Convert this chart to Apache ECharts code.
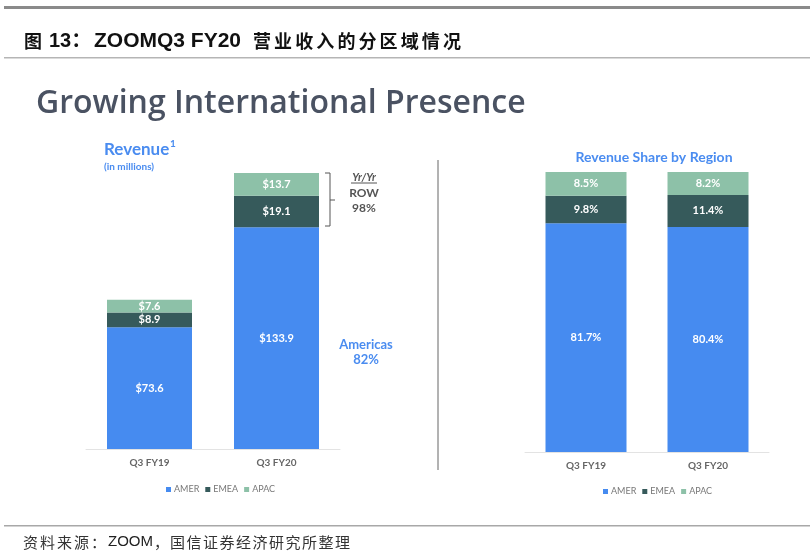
<!DOCTYPE html>
<html>
<head>
<meta charset="utf-8">
<script src="https://cdn.jsdelivr.net/npm/echarts@6/dist/echarts.min.js"></script>
<style>
  html, body { margin: 0; padding: 0; background: #fff; }
  #chart { width: 810px; height: 553px; }
</style>
</head>
<body>
<div id="chart"></div>
<script>
const categories = ['Q3 FY19', 'Q3 FY20']
const amerRevenue = [73.6, 133.9]
const emeaRevenue = [8.9, 19.1]
const apacRevenue = [7.6, 13.7]
const amerShare = [81.7, 80.4]
const emeaShare = [9.8, 11.4]
const apacShare = [8.5, 8.2]

const COLORS = { AMER: '#468bf0', EMEA: '#365a5b', APAC: '#8dc1a8' }
const FONT = 'Lato, "Open Sans", sans-serif'
const CJK = '"Noto Sans CJK SC", sans-serif'
const LATIN = '"Liberation Sans", Arial, sans-serif'

const chart = echarts.init(document.getElementById('chart'))

function barSeries(name, data, idx, width, fmt) {
  return {
    name,
    type: 'bar',
    stack: 'g' + idx,
    xAxisIndex: idx,
    yAxisIndex: idx,
    barWidth: width,
    data,
    itemStyle: { color: COLORS[name] },
    label: {
      show: true,
      position: 'inside',
      color: '#fff',
      fontFamily: FONT,
      fontWeight: 'bold',
      fontSize: 11,
      formatter: p => fmt(p.value)
    }
  }
}

const money = v => '$' + v.toFixed(1)
const pct = v => v.toFixed(1) + '%'

// lay out a CJK string one glyph at a time (wide spacing as in the source doc)
function spaced(str, x, y, font, advance, fill) {
  return Array.from(str).map((ch, i) => ({
    type: 'text', x: x + i * advance, y,
    style: { text: ch, font, fill, verticalAlign: 'middle' }
  }))
}

function txt(text, x, y, font, fill, align) {
  return { type: 'text', x, y, style: { text, font, fill, align: align || 'left', verticalAlign: 'middle' } }
}

const axisCommon = {
  type: 'category',
  data: categories,
  axisTick: { show: false },
  axisLine: { lineStyle: { color: '#e3e3e3', width: 1 } },
  axisLabel: { color: '#666', fontFamily: FONT, fontWeight: 'bold', fontSize: 10, margin: 9 }
}

const legendCommon = {
  data: ['AMER', 'EMEA', 'APAC'],
  itemWidth: 5,
  itemHeight: 5,
  itemGap: 6,
  icon: 'rect',
  textStyle: { color: '#777', fontFamily: FONT, fontSize: 9, padding: [0, 0, 0, -2] }
}

chart.setOption({
  animation: false,
  grid: [
    { left: 86, width: 254, top: 151, bottom: 104 },
    { left: 525, width: 244, top: 172, bottom: 101 }
  ],
  xAxis: [
    Object.assign({ gridIndex: 0 }, axisCommon),
    Object.assign({ gridIndex: 1 }, axisCommon)
  ],
  yAxis: [
    { gridIndex: 0, type: 'value', min: 0, max: 180, show: false },
    { gridIndex: 1, type: 'value', min: 0, max: 100, show: false }
  ],
  legend: [
    Object.assign({ left: 161, top: 480 }, legendCommon),
    Object.assign({ left: 598, top: 482 }, legendCommon)
  ],
  series: [
    barSeries('AMER', amerRevenue, 0, 85, money),
    barSeries('EMEA', emeaRevenue, 0, 85, money),
    barSeries('APAC', apacRevenue, 0, 85, money),
    barSeries('AMER', amerShare, 1, 81, pct),
    barSeries('EMEA', emeaShare, 1, 81, pct),
    barSeries('APAC', apacShare, 1, 81, pct)
  ],
  graphic: [
    // header / footer rules
    { type: 'rect', shape: { x: 4, y: 6, width: 806, height: 3 }, style: { fill: '#8a8a8a' } },
    { type: 'rect', shape: { x: 4, y: 57, width: 806, height: 1.5 }, style: { fill: '#b5b5b5' } },
    { type: 'rect', shape: { x: 4, y: 525, width: 806, height: 1.5 }, style: { fill: '#a8a8a8' } },

    // figure caption
    txt('图', 24, 41, 'bold 18px ' + CJK, '#111'),
    txt('13：', 49, 41, 'bold 20px ' + LATIN + ', ' + CJK, '#111'),
    txt('ZOOMQ3 FY20', 94, 41, 'bold 21px ' + LATIN, '#111'),
    ...spaced('营业收入的分区域情况', 253, 41, 'bold 18px ' + CJK, 21.1, '#111'),

    // source line
    ...spaced('资料来源：', 23, 542, '15px ' + CJK, 17, '#333'),
    txt('ZOOM', 108, 542, '15px ' + LATIN, '#222'),
    txt('，', 154, 542, '15px ' + CJK, '#333'),
    ...spaced('国信证券经济研究所整理', 170, 542, '15px ' + CJK, 16.5, '#333'),

    txt('Growing International Presence', 36, 104, '600 32px "Open Sans", sans-serif', '#4a5262'),

    txt('Revenue', 104, 150, 'bold 17px ' + FONT, '#4a8cf0'),
    txt('1', 170, 144, 'bold 10px ' + FONT, '#4a8cf0'),
    txt('(in millions)', 104, 167, 'bold 10px ' + FONT, '#4a8cf0'),
    txt('Revenue Share by Region', 654, 157, 'bold 14px ' + FONT, '#4a8cf0', 'center'),

    // bracket for ROW
    {
      type: 'polyline',
      shape: { points: [[325, 173], [330, 173], [330, 226], [325, 226]] },
      style: { stroke: '#555', lineWidth: 1, fill: null }
    },
    { type: 'line', shape: { x1: 330, y1: 200, x2: 335, y2: 200 }, style: { stroke: '#555', lineWidth: 1 } },
    txt('Yr/Yr', 364, 177, 'italic bold 11px ' + FONT, '#555', 'center'),
    { type: 'line', shape: { x1: 351, y1: 183, x2: 377, y2: 183 }, style: { stroke: '#555', lineWidth: 1 } },
    txt('ROW', 364, 193, 'bold 12px ' + FONT, '#555', 'center'),
    txt('98%', 364, 208, 'bold 12px ' + FONT, '#555', 'center'),
    txt('Americas', 366, 345, 'bold 13px ' + FONT, '#4a8cf0', 'center'),
    txt('82%', 366, 360, 'bold 13px ' + FONT, '#4a8cf0', 'center'),

    // divider
    { type: 'line', shape: { x1: 438, y1: 160, x2: 438, y2: 470 }, style: { stroke: '#666', lineWidth: 1 } }
  ]
})

window.addEventListener('resize', () => chart.resize())
</script>
</body>
</html>
